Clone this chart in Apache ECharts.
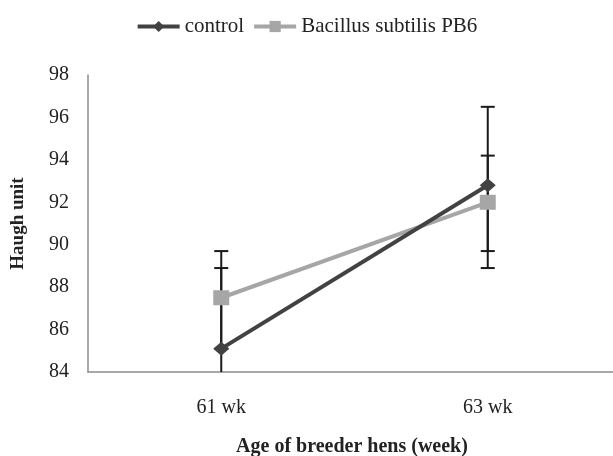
<!doctype html>
<html>
<head>
<meta charset="UTF-8">
<title>Haugh unit</title>
<script src="https://cdn.jsdelivr.net/npm/echarts@6/dist/echarts.min.js"></script>
<style>
  html, body { margin: 0; padding: 0; background: #fff; }
  #main { width: 613px; height: 456px; }
</style>
</head>
<body>
<div id="main"></div>
<script>
// data
var weeks = ['61 wk', '63 wk'];
var controlMean = [85.1, 92.8];
var controlLow = [81.3, 88.9];
var controlHigh = [88.9, 96.5];
var bacMean = [87.5, 92.0];
var bacLow = [85.1, 89.7];
var bacHigh = [89.7, 94.2];

var serif = 'Liberation Serif';
var myChart = echarts.init(document.getElementById('main'));

// error bar series: [category index, low, high]
function errData(low, high) {
    var out = [];
    for (var i = 0; i < low.length; i++) {
        out.push([i, low[i], high[i]]);
    }
    return out;
}

function renderErr(params, api) {
    var x = api.value(0);
    var lo = api.coord([x, api.value(1)]);
    var hi = api.coord([x, api.value(2)]);
    var half = 7;
    var style = { stroke: '#1a1a1a', lineWidth: 2 };
    return {
        type: 'group',
        children: [
            { type: 'line', shape: { x1: hi[0], y1: hi[1], x2: lo[0], y2: lo[1] }, style: style },
            { type: 'line', shape: { x1: hi[0] - half, y1: hi[1], x2: hi[0] + half, y2: hi[1] }, style: style },
            { type: 'line', shape: { x1: lo[0] - half, y1: lo[1], x2: lo[0] + half, y2: lo[1] }, style: style }
        ]
    };
}

var option = {
    animation: false,
    legend: {
        top: 11,
        left: 'center',
        itemWidth: 42,
        itemHeight: 14,
        itemGap: 8,
        lineStyle: { width: 4 },
        textStyle: { fontFamily: serif, fontSize: 21, color: '#222' },
        data: ['control', 'Bacillus subtilis PB6']
    },
    grid: { left: 88, top: 75, width: 533, height: 297, outerBoundsMode: 'none', containLabel: false },
    xAxis: {
        type: 'category',
        data: weeks,
        name: 'Age of breeder hens (week)',
        nameLocation: 'middle',
        nameGap: 65,
        nameTextStyle: { fontFamily: serif, fontSize: 20, fontWeight: 'bold', color: '#222', padding: [0, 5, 0, 0] },
        axisLine: { lineStyle: { color: '#8c8c8c', width: 1.5 } },
        axisTick: { show: false },
        axisLabel: { fontFamily: serif, fontSize: 20, color: '#222', margin: 26 }
    },
    yAxis: {
        type: 'value',
        min: 84,
        max: 98,
        interval: 2,
        name: 'Haugh unit',
        nameLocation: 'middle',
        nameGap: 60,
        nameTextStyle: { fontFamily: serif, fontSize: 19, fontWeight: 'bold', color: '#222' },
        axisLine: { show: true, lineStyle: { color: '#8c8c8c', width: 1.5 } },
        axisTick: { show: false },
        splitLine: { show: false },
        axisLabel: { fontFamily: serif, fontSize: 20, color: '#222', margin: 19 }
    },
    series: [
        {
            type: 'custom',
            name: 'err control',
            renderItem: renderErr,
            data: errData(controlLow, controlHigh),
            clip: true,
            z: 1
        },
        {
            type: 'custom',
            name: 'err bac',
            renderItem: renderErr,
            data: errData(bacLow, bacHigh),
            clip: true,
            z: 1
        },
        {
            name: 'Bacillus subtilis PB6',
            type: 'line',
            data: bacMean,
            symbol: 'rect',
            symbolSize: [16, 15],
            lineStyle: { color: '#a6a6a6', width: 4 },
            itemStyle: { color: '#a6a6a6' },
            z: 3
        },
        {
            name: 'control',
            type: 'line',
            data: controlMean,
            symbol: 'diamond',
            symbolSize: [16, 14],
            lineStyle: { color: '#424242', width: 4 },
            itemStyle: { color: '#424242' },
            z: 4
        }
    ]
};
myChart.setOption(option);
</script>
</body>
</html>
